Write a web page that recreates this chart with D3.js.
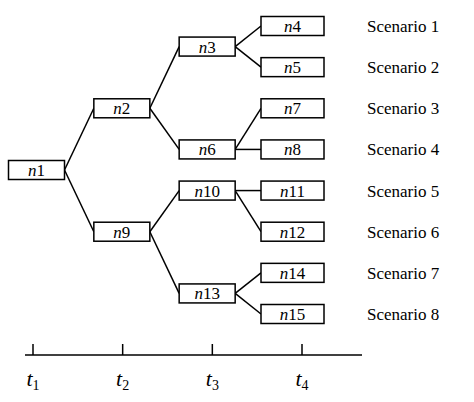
<!DOCTYPE html>
<html><head><meta charset="utf-8">
<script src="https://cdn.jsdelivr.net/npm/d3@7"></script>
<style>body{margin:0;background:#fff} text{font-family:"Liberation Serif","Times New Roman","DejaVu Serif",serif}</style>
</head><body>
<svg id="chart" width="474" height="402"></svg>
<script>
// tree nodes: name, stage (0..3), row position (in scenario units)
var nodeNames = ["1","2","3","4","5","6","7","8","9","10","11","12","13","14","15"];
var nodeStage = [0,1,2,3,3,2,3,3,1,2,3,3,2,3,3];
var nodeRow   = [3.5,2,0.5,0,1,3,2,3,5,4,4,5,6.5,6,7];
var nodeParent = [null,"1","2","3","3","2","6","6","1","9","10","10","9","13","13"];
var scenarios = ["Scenario 1","Scenario 2","Scenario 3","Scenario 4","Scenario 5","Scenario 6","Scenario 7","Scenario 8"];
var timeLabels = ["1","2","3","4"];

var svg = d3.select("#chart");
var xScale = d3.scaleLinear().domain([0,3]).range([36.5,292.5]);
var yScale = d3.scaleLinear().domain([0,7]).range([26,314]);
var axisScale = d3.scaleLinear().domain([0,3]).range([33,302]);
var boxW = function(s){ return s==3 ? 63 : 56; };
var boxH = 19;

var nodes = nodeNames.map(function(n,i){
    return {name:n, stage:nodeStage[i], row:nodeRow[i], parent:nodeParent[i]};
});
var byName = {};
nodes.forEach(function(d){ byName[d.name]=d; });

// edges
svg.append("g").selectAll("line")
    .data(nodes.filter(function(d){ return d.parent; }))
    .enter().append("line")
    .attr("x1",function(d){ var p=byName[d.parent]; return xScale(p.stage)+boxW(p.stage)/2; })
    .attr("y1",function(d){ return yScale(byName[d.parent].row); })
    .attr("x2",function(d){ return xScale(d.stage)-boxW(d.stage)/2; })
    .attr("y2",function(d){ return yScale(d.row); })
    .attr("stroke","#000").attr("stroke-width",1.5);

var g = svg.append("g").selectAll("g").data(nodes).enter().append("g")
    .attr("transform",function(d){ return "translate("+xScale(d.stage)+","+yScale(d.row)+")"; });
g.append("rect")
    .attr("x",function(d){ return -boxW(d.stage)/2; })
    .attr("y",-boxH/2)
    .attr("width",function(d){ return boxW(d.stage); })
    .attr("height",boxH)
    .attr("fill","#fff").attr("stroke","#000").attr("stroke-width",1.5);
var t = g.append("text")
    .attr("text-anchor","middle").attr("dy","0.35em")
    .attr("font-size",17);
t.append("tspan").attr("font-style","italic").text("n");
t.append("tspan").text(function(d){ return d.name; });

// scenario labels
svg.append("g").selectAll("text").data(scenarios).enter().append("text")
    .attr("x",367)
    .attr("y",function(d,i){ return yScale(i); })
    .attr("dy","0.35em")
    .attr("font-size",17)
    .text(function(d){ return d; });

// time axis
svg.append("line").attr("x1",25).attr("x2",362).attr("y1",355).attr("y2",355)
    .attr("stroke","#000").attr("stroke-width",1.5);
svg.append("g").selectAll("line").data(timeLabels).enter().append("line")
    .attr("x1",function(d,i){ return axisScale(i); })
    .attr("x2",function(d,i){ return axisScale(i); })
    .attr("y1",344).attr("y2",355)
    .attr("stroke","#000").attr("stroke-width",1.5);
var tl = svg.append("g").selectAll("text").data(timeLabels).enter().append("text")
    .attr("x",function(d,i){ return axisScale(i); })
    .attr("y",386).attr("text-anchor","middle")
    .attr("font-size",22);
tl.append("tspan").attr("font-style","italic").text("t");
tl.append("tspan").attr("font-size",14).attr("dy",4).text(function(d){ return d; });
</script>
</body></html>
